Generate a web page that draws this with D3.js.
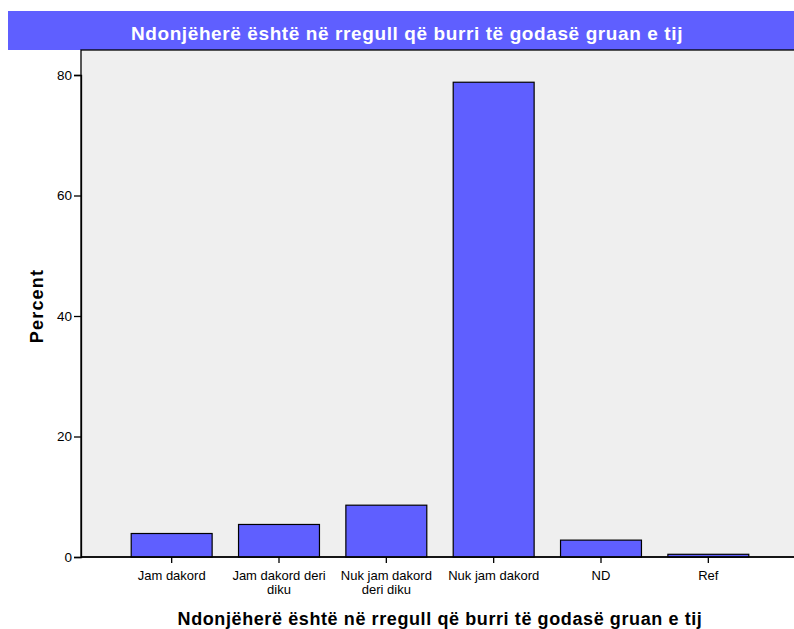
<!DOCTYPE html>
<html>
<head>
<meta charset="utf-8">
<script src="https://cdn.jsdelivr.net/npm/d3@7"></script>
<style>
  body { margin: 0; background: #fff; }
  svg { display: block; font-family: "Liberation Sans", Arial, sans-serif; }
</style>
</head>
<body>
<div id="chart"></div>
<script>
// Chart data
const categories = ["Jam dakord", "Jam dakord deri diku", "Nuk jam dakord deri diku", "Nuk jam dakord", "ND", "Ref"];
const labelLines = [["Jam dakord"], ["Jam dakord deri", "diku"], ["Nuk jam dakord", "deri diku"], ["Nuk jam dakord"], ["ND"], ["Ref"]];
const percents = [3.9, 5.4, 8.6, 78.8, 2.8, 0.45];
const yTicks = [0, 20, 40, 60, 80];
const chartTitle = "Ndonjëherë është në rregull që burri të godasë gruan e tij";
const xTitle = "Ndonjëherë është në rregull që burri të godasë gruan e tij";
const yTitle = "Percent";

const width = 794, height = 629;
const plot = { left: 81, top: 50, right: 800, bottom: 557 };

const svg = d3.select("#chart").append("svg")
    .attr("width", width)
    .attr("height", height);

// title bar
svg.append("rect")
    .attr("x", 8).attr("y", 11)
    .attr("width", width - 8).attr("height", 39)
    .attr("fill", "#5f5fff");
svg.append("text")
    .attr("x", 407).attr("y", 40)
    .attr("text-anchor", "middle")
    .attr("fill", "#fff")
    .attr("font-size", 19)
    .attr("letter-spacing", 0.6)
    .attr("font-weight", "bold")
    .text(chartTitle);

// plot background
svg.append("rect")
    .attr("x", plot.left).attr("y", plot.top)
    .attr("width", plot.right - plot.left).attr("height", plot.bottom - plot.top)
    .attr("fill", "#efefef")
    .attr("stroke", "#000")
    .attr("stroke-width", 1.3);

const x = d3.scaleBand()
    .domain(categories)
    .range([118, 762])
    .paddingInner(0.246)
    .paddingOuter(0.123);

const y = d3.scaleLinear()
    .domain([0, 80])
    .range([plot.bottom, 75]);

// bars
svg.append("g")
    .selectAll("rect")
    .data(categories)
    .join("rect")
    .attr("x", d => x(d))
    .attr("y", (d, i) => y(percents[i]))
    .attr("width", x.bandwidth())
    .attr("height", (d, i) => plot.bottom - y(percents[i]))
    .attr("fill", "#5f5fff")
    .attr("stroke", "#000")
    .attr("stroke-width", 1.2);

// y axis
const yAxis = svg.append("g")
    .attr("transform", `translate(${plot.left},0)`)
    .call(d3.axisLeft(y).tickValues(yTicks).tickSize(7).tickPadding(2).tickFormat(d3.format("d")));
yAxis.select(".domain").attr("stroke", "#000").attr("stroke-width", 1.3);
yAxis.selectAll(".tick line").attr("stroke", "#000").attr("stroke-width", 1.3);
yAxis.selectAll(".tick text")
    .attr("font-size", 13.5)
    .attr("fill", "#000")
    .attr("font-family", "Liberation Sans, Arial, sans-serif");

// x axis
const xAxis = svg.append("g")
    .attr("transform", `translate(0,${plot.bottom})`)
    .call(d3.axisBottom(x).tickSize(6).tickSizeOuter(0).tickFormat(""));
xAxis.select(".domain").attr("stroke", "#000").attr("stroke-width", 1.3)
    .attr("d", `M${plot.left},0H${plot.right}`);
xAxis.selectAll(".tick line").attr("stroke", "#000").attr("stroke-width", 1.3);

// wrapped category labels, one text per line
xAxis.selectAll(".tick text").remove();
xAxis.selectAll(".tick")
    .each(function(d, i) {
        const tick = d3.select(this);
        labelLines[i].forEach((line, j) => {
            tick.append("text")
                .attr("fill", "#000")
                .attr("font-size", 13)
                .attr("text-anchor", "middle")
                .attr("font-family", "Liberation Sans, Arial, sans-serif")
                .attr("x", 0)
                .attr("y", 22.5 + j * 14.5)
                .text(line);
        });
    });

// axis titles
svg.append("text")
    .attr("x", 440).attr("y", 625)
    .attr("text-anchor", "middle")
    .attr("font-size", 18)
    .attr("letter-spacing", 0.6)
    .attr("font-weight", "bold")
    .text(xTitle);

svg.append("text")
    .attr("transform", "translate(43,306) rotate(-90)")
    .attr("text-anchor", "middle")
    .attr("font-size", 18)
    .attr("letter-spacing", 1.2)
    .attr("font-weight", "bold")
    .text(yTitle);
</script>
</body>
</html>
